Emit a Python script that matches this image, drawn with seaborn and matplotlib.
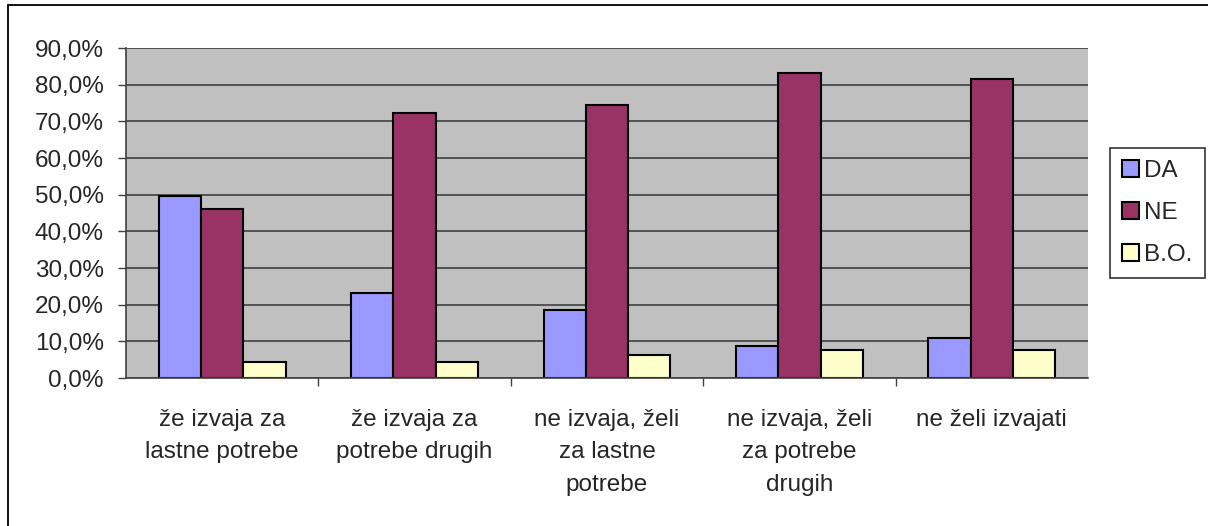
import pandas as pd
import matplotlib
matplotlib.use("Agg")
import matplotlib.pyplot as plt
from matplotlib.lines import Line2D
from matplotlib.ticker import FuncFormatter, FixedLocator
import seaborn as sns

# data (percent)
categories = ["že izvaja za\nlastne potrebe", "že izvaja za\npotrebe drugih",
              "ne izvaja, želi\nza lastne\npotrebe", "ne izvaja, želi\nza potrebe\ndrugih",
              "ne želi izvajati"]
series = ["DA", "NE", "B.O."]
da = [49.5, 23.2, 18.5, 8.6, 10.9]
ne = [46.1, 72.3, 74.5, 83.1, 81.6]
bo = [4.3, 4.3, 6.4, 7.6, 7.6]
colors = ["#9999FF", "#993366", "#FFFFCC"]

rows = []
for name, vals in zip(series, [da, ne, bo]):
    for cat, v in zip(categories, vals):
        rows.append({"kategorija": cat, "odgovor": name, "delez": v})
df = pd.DataFrame(rows)

sns.set_style("white")
plt.rcParams["font.family"] = ["Liberation Sans", "DejaVu Sans"]

fig = plt.figure(figsize=(12.08, 5.26), dpi=100)
ax = fig.add_axes([126 / 1208, 1 - 378 / 526, (1088 - 126) / 1208, (378 - 48) / 526])

sns.barplot(data=df, x="kategorija", y="delez", hue="odgovor", order=categories,
            hue_order=series, palette=colors, width=0.66, gap=0,
            edgecolor="black", linewidth=1.5, saturation=1, ax=ax, legend=True)

ax.set_facecolor("#C0C0C0")
ax.set_ylim(0, 90)
ax.set_xlim(-0.5, len(categories) - 0.5)
ax.set_yticks(range(0, 91, 10))
ax.yaxis.set_major_formatter(FuncFormatter(lambda v, p: f"{v:.1f}%".replace(".", ",")))
ax.grid(axis="y", color="#404040", linewidth=1.2)
ax.set_axisbelow(True)
ax.set_xlabel("")
ax.set_ylabel("")

for s in ["top", "right"]:
    ax.spines[s].set_visible(False)
for s in ["left", "bottom"]:
    ax.spines[s].set_color("#404040")
    ax.spines[s].set_linewidth(1.2)

ax.tick_params(axis="y", direction="out", length=6, width=1, color="#404040",
               labelsize=17.5, pad=10, left=True)
ax.tick_params(axis="x", which="major", length=0, labelsize=17.5, pad=22)
ax.xaxis.set_minor_locator(FixedLocator([i + 0.5 for i in range(len(categories) - 1)]))
ax.tick_params(axis="x", which="minor", direction="out", length=6, width=1,
               color="#404040", bottom=True)
for lab in ax.get_xticklabels():
    lab.set_verticalalignment("top")
    lab.set_multialignment("center")
    lab.set_linespacing(1.63)

leg = ax.legend(loc="center left", bbox_to_anchor=(1110 / 1208, 1 - 213 / 526),
                bbox_transform=fig.transFigure, frameon=True, fancybox=False,
                fontsize=17.5, handlelength=0.7, handleheight=0.7, handletextpad=0.2,
                labelspacing=0.82, borderpad=0.5, borderaxespad=0, edgecolor="black")
leg.get_frame().set_linewidth(1.2)

# chart-area border: only top and left edges visible (cropped screenshot)
bx, by = 8 / 1208, 1 - 5 / 526
fig.add_artist(Line2D([bx, 1], [by, by], transform=fig.transFigure, color="black", lw=1.3))
fig.add_artist(Line2D([bx, bx], [0, by], transform=fig.transFigure, color="black", lw=1.3))

fig.savefig("out.png", dpi=100, facecolor="white")
